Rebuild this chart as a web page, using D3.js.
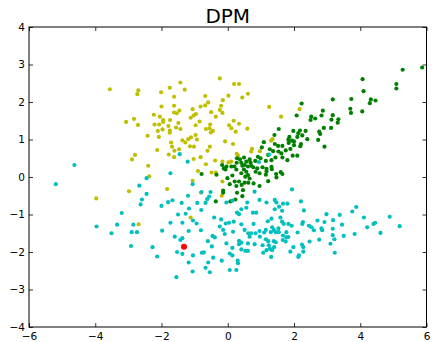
<!DOCTYPE html>
<html>
<head>
<meta charset="utf-8">
<script src="https://cdn.jsdelivr.net/npm/d3@7"></script>
<style>
  html, body { margin: 0; padding: 0; background: #fff; }
  svg text { font-family: "DejaVu Sans", sans-serif; }
</style>
</head>
<body>
<div id="chart"></div>
<script>
// chart size
const width = 432;
const height = 342;
const margin = {top: 27, right: 5, bottom: 15, left: 29};

// tick values
const xTicks = [-6, -4, -2, 0, 2, 4, 6];
const yTicks = [-4, -3, -2, -1, 0, 1, 2, 3, 4];

// cluster points, [x, y]
const yellowPts = [
  [-3.56,2.34],[-2.70,2.31],[-2.73,2.21],[-2.23,1.66],[-2.83,1.55],[-3.07,1.47],[-2.71,1.39],[-2.21,1.40],
  [-2.42,1.10],[-2.80,0.59],[-2.89,0.47],[-2.40,0.30],
  [-1.43,2.52],[-1.75,2.38],[-2.01,2.26],[-1.30,2.33],[-0.24,2.63],[0.19,2.48],[0.34,2.48],[0.61,2.22],
  [0.44,2.12],[0.02,2.17],[-0.68,2.16],[-1.62,2.14],[-0.15,2.05],[-0.59,1.99],[-0.68,1.91],[-0.82,1.88],
  [-0.20,1.90],[-1.62,1.90],[-2.00,1.88],[-1.06,1.81],[-0.24,1.79],[-1.46,1.77],[-1.62,1.72],[-1.54,1.70],
  [-0.50,1.73],[-0.16,1.71],[-0.96,1.68],[-1.03,1.64],[-0.36,1.61],[-2.05,1.61],[-1.12,1.58],[-1.95,1.52],
  [-1.95,1.47],[-1.74,1.52],[-0.85,1.48],[-1.49,1.44],[0.18,1.50],[0.34,1.42],[-2.07,1.40],[-0.97,1.38],
  [-0.53,1.40],[0.04,1.38],[-1.79,1.36],[-1.56,1.32],[-0.66,1.28],[-0.55,1.30],[-1.43,1.28],[-1.97,1.27],
  [0.11,1.30],[0.59,1.29],[-1.75,1.24],[-2.11,1.23],[-0.45,1.23],[-0.51,1.19],[0.24,1.21],[-1.75,1.18],
  [-0.97,1.12],[-2.08,1.07],[-1.11,1.06],[-1.19,1.01],[-0.93,1.00],[-1.37,0.98],[-1.28,0.92],[-1.71,0.92],
  [-0.08,0.95],[0.16,0.88],[-1.68,0.81],[-1.14,0.82],[-1.02,0.81],[-0.54,0.81],[-1.47,0.74],[-1.61,0.70],
  [-2.13,0.72],[-0.61,0.70],[-1.78,0.60],[-1.62,0.53],[-0.82,0.53],[-1.03,0.48],[-0.38,0.44],[-0.66,0.34],
  [0.02,0.39],[0.10,0.41],[0.27,0.62],[0.31,0.57],[0.73,0.75],[0.71,0.68],[0.97,0.69],[-0.90,0.16],
  [-0.49,0.12],[-0.36,0.12],[0.66,0.43],[-0.16,0.41],
  [1.25,1.87],[2.17,1.81],[1.61,1.61],[1.35,1.01],[1.31,0.97],
  [-1.06,-0.10],[-1.83,-0.32],[-0.81,-0.42],[-0.16,-0.12],[-0.18,-0.50],[-1.12,-1.08],[-2.37,0.02],
  [-3.97,-0.57],[-2.98,-0.38],[-2.69,-1.26]
];

const greenPts = [
  [5.87,2.92],[5.28,2.86],[4.07,2.61],[5.09,2.48],[5.09,2.36],[4.10,2.29],[3.17,2.07],[3.73,2.08],
  [4.32,2.07],[4.46,2.04],[4.29,1.97],[2.23,1.96],[3.70,1.82],[2.87,1.77],[3.72,1.71],[4.06,1.75],
  [3.17,1.65],[2.83,1.64],[2.08,1.64],[2.52,1.61],[2.64,1.56],[2.50,1.52],[3.13,1.53],[3.34,1.54],
  [3.32,1.45],[1.54,1.28],[2.90,1.31],[3.12,1.31],[1.98,1.23],[2.18,1.24],[2.35,1.23],[2.76,1.21],
  [2.79,1.15],[2.13,1.17],[2.25,1.11],[2.10,1.07],[1.86,1.07],[1.41,1.12],[2.40,1.01],[2.73,0.99],
  [1.83,1.00],[1.94,0.97],[2.00,0.95],[1.09,0.93],[1.84,0.91],[2.21,0.88],[2.00,0.85],[2.19,0.82],
  [2.92,0.81],[1.03,0.79],[1.42,0.88],[1.52,0.83],[1.65,0.83],[1.89,0.75],[1.27,0.74],[1.37,0.69],
  [1.75,0.71],[1.53,0.68],[1.62,0.63],[1.96,0.57],[2.10,0.57],[1.22,0.59],[1.44,0.52],[1.65,0.52],
  [1.80,0.45],[0.99,0.50],[1.15,0.43],[1.32,0.45],[1.05,0.26],[1.17,0.22],[1.32,0.27],[1.33,0.21],
  [1.46,0.08],[1.60,0.13],[1.65,0.08],[1.17,0.15],
  [0.96,0.10],[1.15,0.06],[1.47,-0.01],[1.22,-0.11],[0.96,-0.24],
  [-0.79,0.08],[-0.34,0.06],[-0.01,-0.03],[0.06,-0.19],[0.14,0.04],[0.21,-0.12],[0.34,-0.12],[0.26,-0.24],
  [0.42,-0.21],[0.51,-0.15],[0.62,-0.15],[0.66,-0.04],[0.53,0.01],[0.61,0.05],[0.41,0.10],[0.56,0.14],
  [0.84,0.14],[0.78,-0.17],[0.46,-0.35],[0.28,-0.42],[0.44,-0.51],[0.23,-0.60],[0.08,-0.65],[-0.14,-0.36],
  [-0.14,-0.42],[-0.36,-0.65],
  [0.37,0.47],[0.27,0.38],[0.41,0.38],[0.56,0.41],[0.51,0.32],[0.69,0.38],[0.83,0.43],[0.91,0.54],
  [0.61,0.28],[0.77,0.26],[0.89,0.23],[0.49,0.20],[-0.17,0.32],[-0.04,0.28],[0.11,0.28],[-0.07,0.20],
  [0.26,0.20],[0.49,0.52],[0.66,0.47],[0.28,0.50],[0.44,0.30],[0.71,0.30],[-0.12,0.23],[0.20,0.28]
];

const cyanPts = [
  [-5.19,-0.19],[-3.96,-1.32],[-3.51,-1.50],[-3.34,-1.27],[-3.20,-0.96],[-2.92,-1.84],[-2.90,-1.47],[-2.85,-1.27],
  [-2.74,-1.47],[-2.67,-0.23],[-2.63,-0.73],[-2.59,-0.60],[-2.45,-0.45],[-2.45,-0.03],[-2.27,-1.87],[-2.13,-2.12],
  [-1.98,-1.43],[-2.00,-0.77],[-1.80,-0.67],[-1.73,0.10],[-1.67,-0.62],[-1.73,-1.22],[-1.60,-1.59],[-1.53,-2.00],
  [-1.55,-2.67],[-1.50,-1.00],[-1.43,-1.68],[-1.37,-1.63],[-1.39,-0.69],[-1.37,-1.22],[-1.27,-0.98],[-1.37,-2.05],
  [-1.20,-0.50],[-1.17,-0.84],[-1.18,-1.44],[-1.18,-2.28],[-1.06,-0.19],[-1.05,-1.16],[-1.06,-2.52],[-1.05,-2.09],
  [-0.94,-1.24],[-0.92,-0.69],[-0.81,-1.42],[-0.80,-0.88],[-0.78,-2.02],[-0.72,-2.01],[-0.79,-0.40],[-0.67,-0.69],
  [-0.67,-2.42],[-0.60,-1.71],[-0.59,-2.28],[-0.62,-0.59],[-0.56,-0.52],[-0.52,-0.40],[-0.54,-2.54],[-0.48,-1.85],
  [-0.44,-2.15],[-0.46,-1.57],[-0.41,-1.08],[-0.39,-1.61],
  [-4.63,0.32],[-1.45,0.61],[-1.21,0.41],[0.94,0.40],[1.25,0.60],
  [-0.04,-0.68],[0.14,-0.63],[0.59,-0.68],[0.81,-0.39],[0.41,-0.86],[0.56,-0.82],[0.28,-0.95],[0.34,-0.99],
  [0.76,-0.95],[0.86,-0.95],[-0.20,-1.13],[0.04,-1.22],[-0.06,-1.24],[0.18,-1.19],[0.41,-1.26],[0.78,-1.25],
  [-0.24,-1.32],[-0.14,-1.41],[-0.09,-1.52],[0.16,-1.46],[0.51,-1.41],[0.62,-1.50],[0.71,-1.50],[0.84,-1.50],
  [0.66,-1.59],[-0.04,-1.77],[0.34,-1.70],[0.41,-1.75],[0.34,-1.79],[0.61,-1.77],[0.81,-1.79],[0.14,-1.89],
  [0.41,-1.93],[0.53,-1.97],[0.61,-1.97],[0.06,-2.04],[0.14,-2.09],[0.30,-2.23],[0.31,-2.30],[-0.18,-2.23],
  [0.06,-2.48],[0.26,-2.48],
  [0.96,-0.61],[1.94,-0.33],[1.17,-0.68],[1.42,-0.61],[1.47,-0.68],[1.67,-0.71],[1.80,-0.71],[1.55,-0.79],
  [1.42,-0.86],[1.64,-0.90],[2.21,-0.65],[2.30,-0.89],[1.32,-1.11],[1.59,-1.08],[1.21,-1.18],[1.64,-1.19],
  [1.69,-1.25],[1.83,-1.25],[1.93,-1.30],[2.25,-1.25],[2.27,-1.20],[2.45,-1.30],[2.53,-1.34],[2.60,-1.42],
  [2.71,-1.16],[2.92,-1.20],[2.98,-0.99],[3.18,-1.15],[3.38,-1.01],[3.45,-1.27],[2.83,-1.37],[2.85,-1.42],
  [3.17,-1.38],[3.76,-0.92],[3.88,-0.80],[4.11,-1.08],[4.21,-1.34],[4.40,-1.25],[4.45,-1.22],[4.89,-1.06],
  [5.19,-1.31],[4.61,-1.49],[3.83,-1.52],[3.50,-1.57],[3.17,-1.55],[3.22,-1.66],[3.10,-1.78],[3.23,-2.02],
  [2.76,-1.67],[2.47,-1.72],[2.11,-1.48],[2.24,-1.80],[2.28,-1.87],[1.98,-1.87],[1.89,-1.99],[2.28,-1.99],
  [2.15,-2.09],[2.13,-2.13],[0.96,-1.44],[1.10,-1.48],[1.15,-1.41],[1.30,-1.47],[1.34,-1.34],[1.39,-1.41],
  [1.45,-1.47],[1.53,-1.37],[1.54,-1.47],[1.77,-1.47],[1.67,-1.56],[1.77,-1.61],[1.83,-1.60],[1.66,-1.68],
  [1.75,-1.72],[0.97,-1.59],[1.15,-1.66],[1.22,-1.71],[1.39,-1.71],[1.45,-1.74],[1.05,-1.82],[1.24,-1.82],
  [1.40,-1.87],[1.27,-1.91],[1.34,-1.95],[1.17,-1.95],[1.07,-2.02],[1.31,-2.13]
];

const redPts = [[-1.32,-1.86]];

const svg = d3.select('#chart').append('svg')
    .attr('width', width)
    .attr('height', height);

const x = d3.scaleLinear().domain([-6, 6]).range([margin.left, width - margin.right - 0.5]);
const y = d3.scaleLinear().domain([-4, 4]).range([height - margin.bottom, margin.top]);

// dots
function drawDots(pts, color, r) {
    svg.append('g')
        .selectAll('circle')
        .data(pts)
        .join('circle')
        .attr('cx', d => x(d[0]))
        .attr('cy', d => y(d[1]))
        .attr('r', r)
        .attr('fill', color);
}
drawDots(yellowPts, '#bfbf00', 2.1);
drawDots(greenPts, '#008000', 2.1);
drawDots(cyanPts, '#00bfbf', 2.1);
drawDots(redPts, '#ff0000', 3);

// axes, ticks pointing inward on all four sides
function styleAxis(g) {
    g.select('.domain').remove();
    g.selectAll('.tick line').attr('stroke', '#000').attr('stroke-width', 0.8);
    g.selectAll('.tick text').attr('font-size', '10.5px').attr('fill', '#000')
        .style('font-family', '"DejaVu Sans", sans-serif');
}
const x0 = x.range()[0], x1 = x.range()[1];
const y0 = y.range()[0], y1 = y.range()[1];

svg.append('g').attr('transform', `translate(0,${y0})`)
    .call(d3.axisBottom(x).tickValues(xTicks).tickSizeInner(-4).tickSizeOuter(0).tickPadding(6))
    .call(styleAxis);
svg.append('g').attr('transform', `translate(0,${y1})`)
    .call(d3.axisTop(x).tickValues(xTicks).tickSizeInner(-4).tickSizeOuter(0).tickFormat(''))
    .call(styleAxis);
svg.append('g').attr('transform', `translate(${x0},0)`)
    .call(d3.axisLeft(y).tickValues(yTicks).tickSizeInner(-4).tickSizeOuter(0).tickPadding(4))
    .call(styleAxis);
svg.append('g').attr('transform', `translate(${x1},0)`)
    .call(d3.axisRight(y).tickValues(yTicks).tickSizeInner(-4).tickSizeOuter(0).tickFormat(''))
    .call(styleAxis);

// frame
svg.append('rect')
    .attr('x', x0).attr('y', y1)
    .attr('width', x1 - x0).attr('height', y0 - y1)
    .attr('fill', 'none')
    .attr('stroke', '#000')
    .attr('stroke-width', 1);

// title
svg.append('text')
    .attr('x', (x0 + x1) / 2)
    .attr('y', 23)
    .attr('text-anchor', 'middle')
    .attr('font-size', '20px')
    .attr('fill', '#000')
    .text('DPM');
</script>
</body>
</html>
